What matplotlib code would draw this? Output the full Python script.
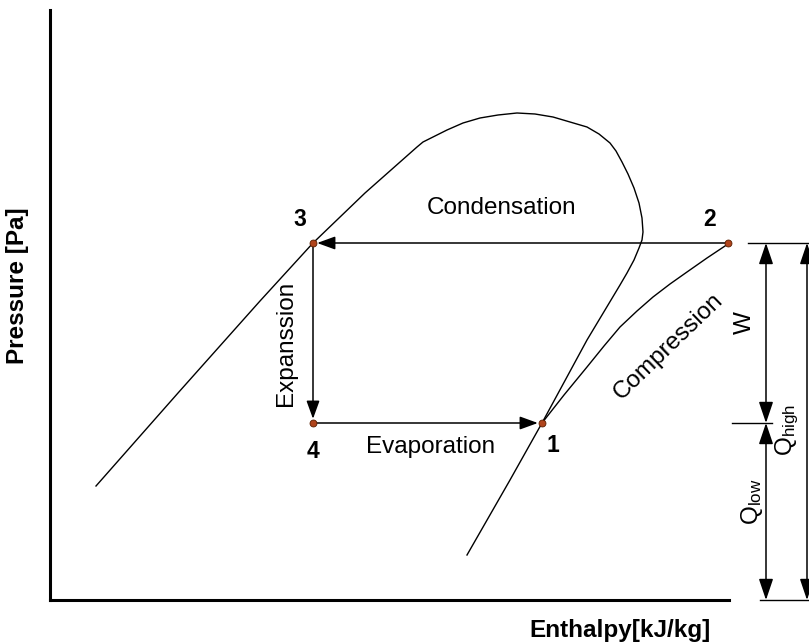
import matplotlib
matplotlib.use('Agg')
import matplotlib.pyplot as plt

plt.rcParams['font.family'] = ['Liberation Sans', 'DejaVu Sans']
plt.rcParams['mathtext.fontset'] = 'custom'
plt.rcParams['mathtext.rm'] = 'Liberation Sans'
plt.rcParams['mathtext.it'] = 'Liberation Sans:italic'

# Saturation dome (enthalpy, pressure) in arbitrary schematic units
dome_h = [96, 178, 260, 313, 365, 417, 423, 435, 447, 463, 480, 498, 517, 535, 553,
          570, 587, 599, 610, 616, 622, 628, 634, 639, 642, 643, 642, 639, 634, 627,
          620, 587, 542, 510, 467]
dome_p = [157, 250, 342, 400, 450, 496, 501, 507, 513, 520, 525, 528, 530, 529, 526,
          521, 516, 509, 500, 492, 481, 469, 455, 440, 425, 411, 403, 395, 383, 370,
          358, 303, 220, 163, 88]

# Compression curve 1 -> 2
comp_h = [542, 564, 587, 604, 620, 637, 653, 670, 687, 707, 728]
comp_p = [220, 248, 276, 297, 316, 332, 346, 359, 371, 385, 399]

# Cycle state points
state_labels = ['1', '2', '3', '4']
state_h = [542, 728, 313, 313]
state_p = [220, 400, 400, 220]

# Energy levels for dimension lines
p_high = 400
p_low = 220
p_base = 43

fig = plt.figure(figsize=(8.09, 6.43), dpi=100)
ax = fig.add_axes([50 / 809, 43 / 643, 679 / 809, 590 / 643])
ax.set_xlim(50, 729)
ax.set_ylim(43, 633)
for s in ['top', 'right']:
    ax.spines[s].set_visible(False)
for s in ['left', 'bottom']:
    ax.spines[s].set_linewidth(2.2)
ax.set_xticks([])
ax.set_yticks([])

lw = 1.0
ax.plot(dome_h, dome_p, color='black', lw=lw, clip_on=False, solid_joinstyle='round')
ax.plot(comp_h, comp_p, color='black', lw=lw, clip_on=False, solid_joinstyle='round')

def arrow(x0, y0, x1, y1, style='-|>', shrinkB=3):
    ax.annotate('', xy=(x1, y1), xytext=(x0, y0),
                arrowprops=dict(arrowstyle=style + ',head_length=0.55,head_width=0.2',
                                mutation_scale=20, color='black', lw=1.1,
                                shrinkA=0, shrinkB=shrinkB),
                annotation_clip=False)

h1, h2, h3, h4 = state_h
p1, p2, p3, p4 = state_p
arrow(h2, p2, h3, p3)
arrow(h3, p3, h4, p4)
arrow(h4, p4, h1, p1)

ax.plot(state_h, state_p, 'o', ms=5, mfc='#b0441c', mec='#5a1e00', mew=0.6,
        clip_on=False, zorder=5)

# Dimension (extension) lines
ax.plot([748, 809], [p_high, p_high], color='black', lw=lw, clip_on=False)
ax.plot([732, 772], [p_low, p_low], color='black', lw=lw, clip_on=False)
ax.plot([760, 809], [p_base, p_base], color='black', lw=lw, clip_on=False)

def dim(x, y0, y1):
    ax.annotate('', xy=(x, y1), xytext=(x, y0),
                arrowprops=dict(arrowstyle='<|-|>,head_length=0.65,head_width=0.22',
                                mutation_scale=20, color='black', lw=1.1,
                                shrinkA=0, shrinkB=0),
                annotation_clip=False)

dim(766, p_high, p_low)
dim(766, p_low, p_base)
dim(807, p_high, p_base)

fs = 17.5
ax.text(502, 435, 'Condensation', fontsize=fs, ha='center', va='center')
ax.text(431, 196, 'Evaporation', fontsize=fs, ha='center', va='center')
ax.text(286, 300, 'Expanssion', fontsize=fs, ha='center', va='center', rotation=90)
ax.text(668, 296, 'Compression', fontsize=fs, ha='center', va='center', rotation=44)
ax.text(745, 320, 'W', fontsize=fs, ha='center', va='center', rotation=90)
ax.text(787, 213, r'Q$_{\mathrm{high}}$', fontsize=fs, ha='center', va='center', rotation=90)
ax.text(752, 141, r'Q$_{\mathrm{low}}$', fontsize=fs, ha='center', va='center', rotation=90)

num_pos = {'1': (553, 198), '2': (710, 424), '3': (300, 424), '4': (313, 192)}
for lab in state_labels:
    x, y = num_pos[lab]
    ax.text(x, y, lab, fontsize=fs - 1, fontweight='bold', ha='center', va='center')

ax.text(18, 357, 'Pressure [Pa]', fontsize=fs, fontweight='bold', ha='center',
        va='center', rotation=90)
ax.text(620, 13, 'Enthalpy[kJ/kg]', fontsize=fs, fontweight='bold', ha='center',
        va='center')

fig.savefig('out.png', dpi=100)
